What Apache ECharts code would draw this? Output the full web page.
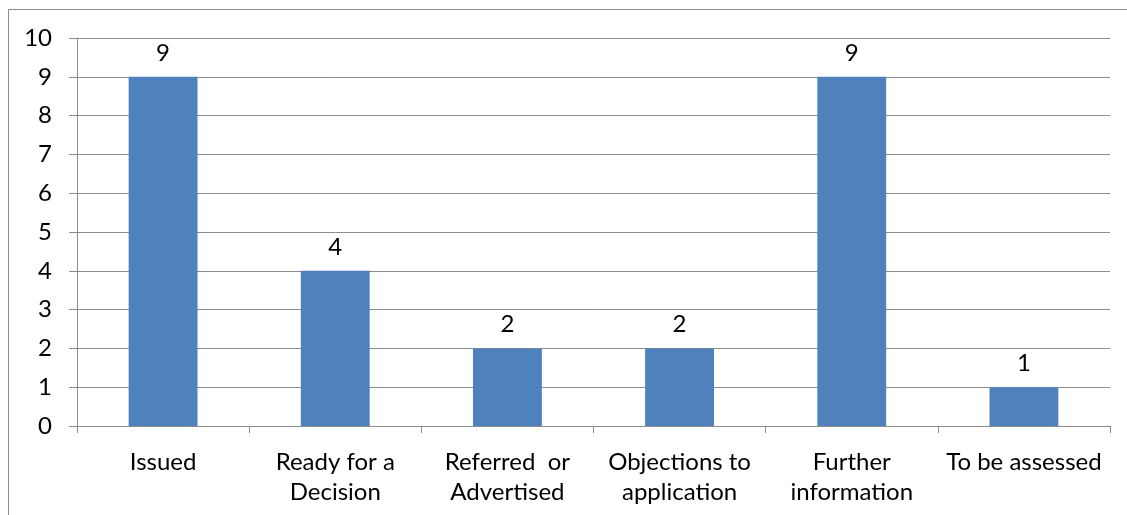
<!DOCTYPE html>
<html>
<head>
<meta charset="utf-8">
<style>
  html, body { margin: 0; padding: 0; background: #ffffff; }
  #chart { width: 1127px; height: 515px; }
</style>
<script src="https://cdn.jsdelivr.net/npm/echarts@6/dist/echarts.min.js"></script>
</head>
<body>
<div id="chart"></div>
<script>
// Application status counts
const categories = ['Issued', 'Ready for a\nDecision', 'Referred  or\nAdvertised', 'Objections to\napplication', 'Further\ninformation', 'To be assessed'];
const counts = [9, 4, 2, 2, 9, 1];
const yTicks = [0, 1, 2, 3, 4, 5, 6, 7, 8, 9, 10];

const FONT = 'Lato, "Open Sans", sans-serif';
const FONT_SIZE = 24;
const GRID_COLOR = '#8c8c8c';

const chart = echarts.init(document.getElementById('chart'), null, { renderer: 'canvas' });
chart.setOption({
  animation: false,
  backgroundColor: '#ffffff',
  graphic: [{
    type: 'rect',
    shape: { x: 8.5, y: 9.5, width: 1200, height: 600 },
    style: { fill: 'none', stroke: '#8c8c8c', lineWidth: 1 },
    silent: true
  }],
  grid: { left: 77, right: 17, top: 38, bottom: 89, containLabel: false },
  xAxis: {
    type: 'category',
    data: categories,
    axisLine: { show: true, lineStyle: { color: GRID_COLOR, width: 1 } },
    axisTick: { show: true, alignWithLabel: false, length: 7, lineStyle: { color: GRID_COLOR } },
    axisLabel: {
      interval: 0, margin: 21, color: '#000000',
      fontFamily: FONT, fontSize: FONT_SIZE, lineHeight: 30
    },
    splitLine: { show: false }
  },
  yAxis: {
    type: 'value',
    min: yTicks[0],
    max: yTicks[yTicks.length - 1],
    interval: 1,
    axisLine: { show: true, lineStyle: { color: GRID_COLOR, width: 1 } },
    axisTick: { show: true, length: 8, lineStyle: { color: GRID_COLOR } },
    axisLabel: { margin: 25, color: '#000000', fontFamily: FONT, fontSize: FONT_SIZE },
    splitLine: { show: true, lineStyle: { color: GRID_COLOR, width: 1 } }
  },
  series: [{
    type: 'bar',
    data: counts,
    barCategoryGap: '60%',
    itemStyle: { color: '#4f81bd' },
    label: {
      show: true, position: 'top', distance: 12,
      color: '#000000', fontFamily: FONT, fontSize: FONT_SIZE
    }
  }]
});
</script>
</body>
</html>
